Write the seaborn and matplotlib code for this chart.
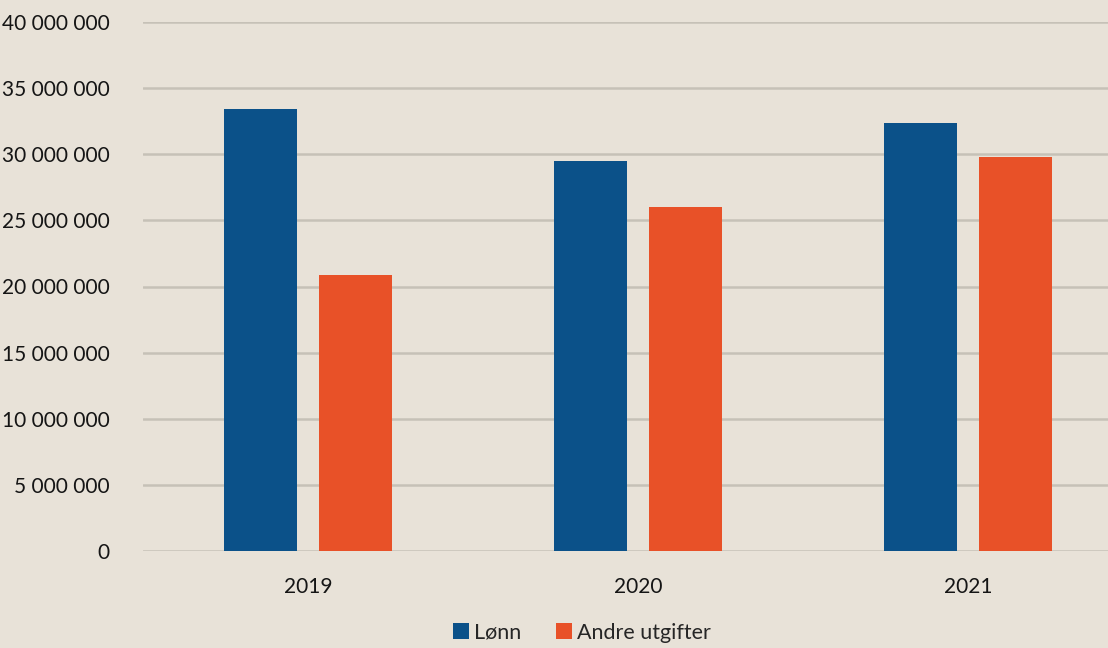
import pandas as pd
import matplotlib.pyplot as plt
import matplotlib.ticker as mticker
import seaborn as sns

# data
years = ["2019", "2020", "2021"]
lonn = [33420000, 29490000, 32360000]
andre = [20870000, 26010000, 29790000]
series = ["Lønn", "Andre utgifter"]
colors = ["#0B5189", "#E85128"]

df = pd.DataFrame({
    "year": years * 2,
    "value": lonn + andre,
    "series": [series[0]] * 3 + [series[1]] * 3,
})

bg = "#E8E2D8"
sns.set_style("white")
plt.rcParams['font.family'] = ['Lato', 'DejaVu Sans']

fig = plt.figure(figsize=(11.08, 6.48), dpi=100, facecolor=bg)
ax = fig.add_axes([143 / 1108, 97 / 648, 990 / 1108, 529 / 648])
ax.set_facecolor(bg)

sns.barplot(data=df, x="year", y="value", hue="series", palette=colors,
            width=0.573, gap=0.228, saturation=1, linewidth=0, ax=ax, legend=True)

ax.set_ylim(0, 40000000)
ax.set_xlim(-0.5, 2.5)
ax.yaxis.set_major_locator(mticker.MultipleLocator(5000000))
ax.yaxis.set_major_formatter(
    mticker.FuncFormatter(lambda v, p: f"{int(v):,}".replace(",", " ")))
ax.grid(axis="y", color="#C6C1B7", linewidth=1.8)
ax.set_axisbelow(True)
for s in ax.spines.values():
    s.set_visible(False)
ax.tick_params(axis="both", length=0, labelsize=15, colors="#151515")
ax.tick_params(axis="y", pad=24)
ax.tick_params(axis="x", pad=19)
ax.set_xlabel("")
ax.set_ylabel("")

handles, labels = ax.get_legend_handles_labels()
ax.get_legend().remove()
fig.legend(handles, labels, loc="lower center", bbox_to_anchor=(582 / 1108, -0.022),
           ncol=2, frameon=False, fontsize=15.5, handlelength=0.75, handleheight=0.75,
           handletextpad=0.25, columnspacing=1.6)

fig.savefig("out.png", dpi=100, facecolor=bg)
